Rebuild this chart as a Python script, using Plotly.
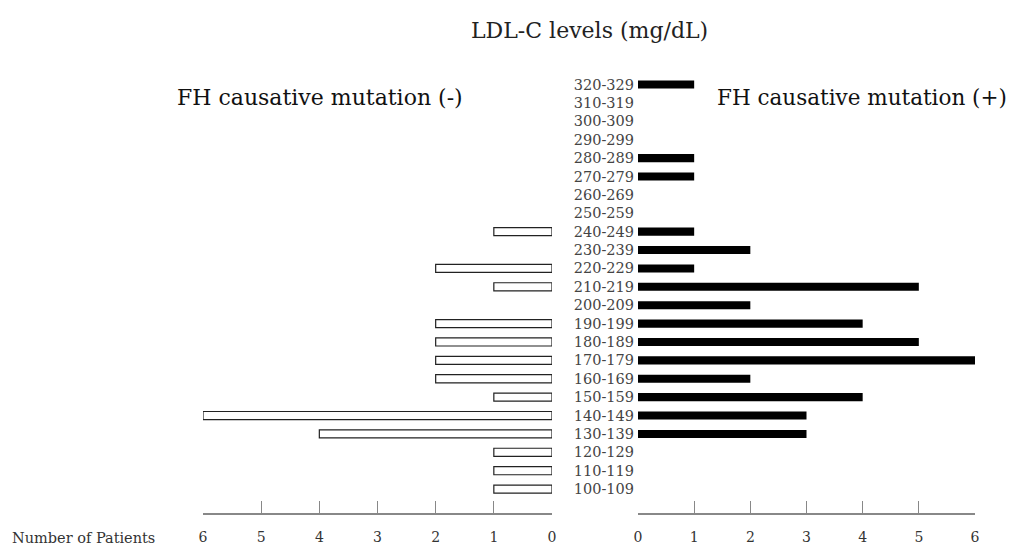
import plotly.graph_objects as go

categories = ["100-109", "110-119", "120-129", "130-139", "140-149", "150-159",
              "160-169", "170-179", "180-189", "190-199", "200-209", "210-219",
              "220-229", "230-239", "240-249", "250-259", "260-269", "270-279",
              "280-289", "290-299", "300-309", "310-319", "320-329"]
mutation_neg = [1, 1, 1, 4, 6, 1, 2, 2, 2, 2, 0, 1, 2, 0, 1, 0, 0, 0, 0, 0, 0, 0, 0]
mutation_pos = [0, 0, 0, 3, 3, 4, 2, 6, 5, 4, 2, 5, 1, 2, 1, 0, 0, 1, 1, 0, 0, 0, 1]
tick_vals = [0, 1, 2, 3, 4, 5, 6]

FONT = "DejaVu Serif"
W, H = 1014, 545
MT, MB = 70, 32
PH = H - MT - MB


def px_y(y):
    """convert a pixel row to paper y (paper = plot area)"""
    return (H - MB - y) / PH


def nz(v):
    return [x if x else None for x in v]


fig = go.Figure()
fig.add_trace(go.Bar(y=categories, x=nz(mutation_neg), orientation="h",
                     xaxis="x", yaxis="y", width=0.44,
                     marker=dict(color="white", line=dict(color="#222", width=1.2)),
                     showlegend=False))
fig.add_trace(go.Bar(y=categories, x=nz(mutation_pos), orientation="h",
                     xaxis="x2", yaxis="y2", width=0.44,
                     marker=dict(color="black", line=dict(color="black", width=0)),
                     showlegend=False))

xcommon = dict(showgrid=False, zeroline=False, showline=True, linecolor="#888",
               linewidth=1.5, ticks="inside", ticklen=12, tickcolor="#888",
               tickwidth=1.2, tickvals=tick_vals, ticklabelstandoff=10, automargin=False,
               tickfont=dict(family=FONT, size=14, color="#333"))
ycommon = dict(showgrid=False, zeroline=False, showline=False, ticks="",
               range=[-1.3, 22.79], type="category", categoryorder="array",
               categoryarray=categories, automargin=False)

fig.update_layout(
    width=W, height=H, plot_bgcolor="white", paper_bgcolor="white",
    margin=dict(l=0, r=0, t=MT, b=MB, autoexpand=False),
    bargap=0.5,
    xaxis=dict(domain=[203 / W, 552 / W], range=[6, 0], anchor="y", **xcommon),
    xaxis2=dict(domain=[638 / W, 975 / W], range=[0, 6], anchor="y2", **xcommon),
    yaxis=dict(anchor="x", showticklabels=False, **ycommon),
    yaxis2=dict(anchor="x2", showticklabels=True, ticklabelstandoff=3,
                tickfont=dict(family=FONT, size=14.5, color="#444"), **ycommon),
    annotations=[
        dict(text="LDL-C levels (mg/dL)", x=589 / W, y=px_y(31), xref="paper", yref="paper",
             showarrow=False, xanchor="center", yanchor="middle",
             font=dict(family=FONT, size=22, color="#222")),
        dict(text="FH causative mutation (-)", x=320 / W, y=px_y(98), xref="paper", yref="paper",
             showarrow=False, xanchor="center", yanchor="middle",
             font=dict(family=FONT, size=22, color="#111")),
        dict(text="FH causative mutation (+)", x=862 / W, y=px_y(98), xref="paper", yref="paper",
             showarrow=False, xanchor="center", yanchor="middle",
             font=dict(family=FONT, size=21.5, color="#111")),
        dict(text="Number of Patients", x=10 / W, y=px_y(538), xref="paper", yref="paper",
             showarrow=False, xanchor="left", yanchor="middle",
             font=dict(family=FONT, size=14.5, color="#333")),
    ],
)

fig.write_html("out.html", config={"displayModeBar": False},
               post_script="document.body.style.margin='0';")
